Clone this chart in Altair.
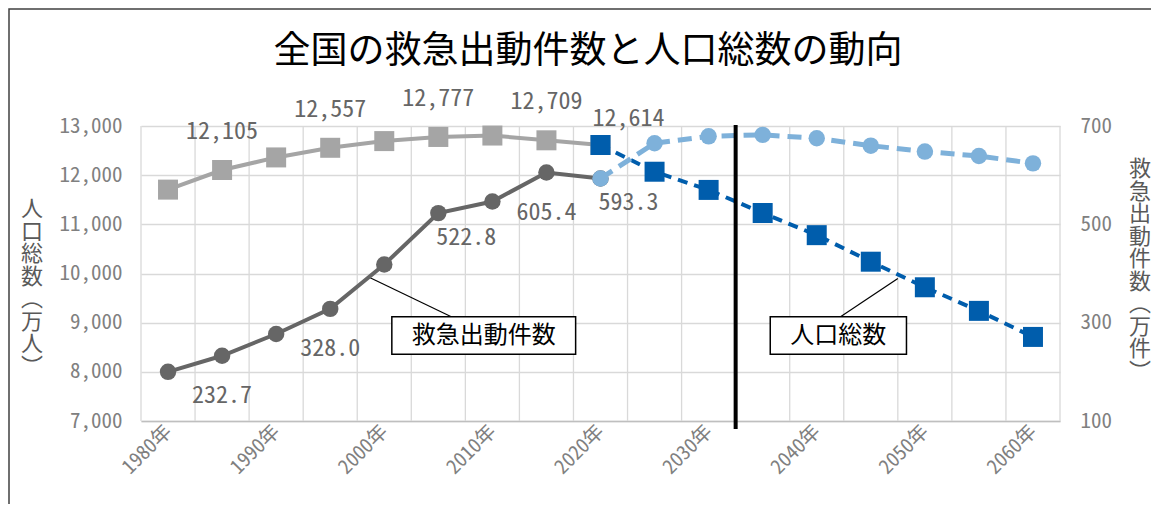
import altair as alt
import pandas as pd

# ---------------- data ----------------
years_hist = [1980, 1985, 1990, 1995, 2000, 2005, 2010, 2015, 2020]
pop_hist = [11706, 12105, 12361, 12557, 12693, 12777, 12806, 12709, 12614]
emg_hist = [200.0, 232.7, 276.9, 328.0, 418.3, 522.8, 546.4, 605.4, 593.3]

years_proj = [2020, 2025, 2030, 2035, 2040, 2045, 2050, 2055, 2060]
pop_proj = [12614, 12070, 11700, 11230, 10780, 10240, 9720, 9240, 8710]
emg_proj = [593.3, 665, 679, 682, 675, 660, 648, 639, 624]

x_tick_years = [1980, 1990, 2000, 2010, 2020, 2030, 2040, 2050, 2060]
left_ticks = [7000, 8000, 9000, 10000, 11000, 12000, 13000]
right_ticks = [100, 300, 500, 700]

pop_label_above = [1985, 1995, 2005, 2015]
pop_label_right = [2020]
emg_label_below = [1985, 1995, 2015]
emg_label_right = [2005, 2020]

divider_year = [2032.5]

title_text = "全国の救急出動件数と人口総数の動向"
left_title = "人口総数︵万人︶"
right_title = "救急出動件数︵万件︶"

ann_text = ["救急出動件数", "人口総数"]
ann_tx = [2009.2, 2042.0]
ann_ty = [8730, 8730]
ann_bx1 = [2000.7, 2035.7]
ann_bx2 = [2017.7, 2048.3]
ann_by1 = [9120, 9120]
ann_by2 = [8360, 8360]
ann_lx1 = [1998.5, 2047.5]
ann_ly1 = [9935, 9900]
ann_lx2 = [2006.2, 2042.2]
ann_ly2 = [9120, 9120]

# ---------------- styling ----------------
NUM = "'Noto Sans Mono CJK JP', 'Liberation Mono', monospace"
JP = "'Noto Sans CJK JP'"
GRAY = "#a5a5a5"
DARK = "#666666"
BLUE = "#005dac"
LBLUE = "#7eb1da"
GRID = "#d9d9d9"

all_years = sorted(set(years_hist + years_proj))
grid_years = [y - 2.5 for y in all_years] + [all_years[-1] + 2.5]
x_domain = [all_years[0] - 2.5, all_years[-1] + 2.5]

hist_df = pd.DataFrame({"year": years_hist, "pop": pop_hist, "emg": emg_hist})
proj_df = pd.DataFrame({"year": years_proj, "pop": pop_proj, "emg": emg_proj})
grid_df = pd.DataFrame({"year": grid_years})
div_df = pd.DataFrame({"year": divider_year})
ann_df = pd.DataFrame({
    "text": ann_text, "tx": ann_tx, "ty": ann_ty,
    "bx1": ann_bx1, "bx2": ann_bx2, "by1": ann_by1, "by2": ann_by2,
    "lx1": ann_lx1, "ly1": ann_ly1, "lx2": ann_lx2, "ly2": ann_ly2,
})
title_df = pd.DataFrame({"t": [title_text]})

x_axis = alt.Axis(
    values=x_tick_years, labelExpr="datum.value + '年'", labelAngle=-45,
    labelAlign="right", labelBaseline="middle", labelPadding=7,
    ticks=False, grid=False, domain=True, domainColor="#bfbfbf", domainWidth=1.5,
    labelFont=NUM, labelFontSize=20, labelColor="#808080", title=None,
    labelFlush=False, labelOverlap=False,
)
x_scale = alt.Scale(domain=x_domain, nice=False, zero=False)


def X(field="year"):
    return alt.X(f"{field}:Q", scale=x_scale, axis=x_axis)


left_axis = alt.Axis(
    values=left_ticks, labelExpr="format(datum.value, ',')", grid=True,
    gridColor=GRID, gridWidth=1.3, domain=False, ticks=False, labelPadding=19,
    labelFont=NUM, labelFontSize=21, labelColor="#808080", title=None,
)
left_scale = alt.Scale(domain=[7000, 13000], nice=False, zero=False)

right_axis = alt.Axis(
    orient="right", values=right_ticks, labelExpr="format(datum.value, 'd')",
    grid=False, domain=False, ticks=False, labelPadding=20, labelFont=NUM,
    labelFontSize=21, labelColor="#808080", title=None,
)
right_scale = alt.Scale(domain=[100, 700], nice=False, zero=False)


def YL(field):
    return alt.Y(f"{field}:Q", scale=left_scale, axis=left_axis)


def YR(field):
    return alt.Y(f"{field}:Q", scale=right_scale, axis=right_axis)


# ---------------- left group (population) ----------------
frame = alt.Chart(title_df).mark_rect(
    fillOpacity=0, stroke="#404040", strokeWidth=1.5
).encode(x=alt.value(-132), x2=alt.value(1300), y=alt.value(-117), y2=alt.value(600))

title = alt.Chart(title_df).mark_text(
    font=JP, fontSize=37, color="black", align="center", baseline="middle"
).encode(text="t:N", x=alt.value(447), y=alt.value(-74))

ltitle = alt.Chart(title_df).mark_text(
    text=list(left_title), font=JP, fontSize=22, color="#595959", align="center",
    baseline="top", lineHeight=22.5,
).encode(x=alt.value(-109), y=alt.value(73))

rtitle = alt.Chart(title_df).mark_text(
    text=list(right_title), font=JP, fontSize=22, color="#595959", align="center",
    baseline="top", lineHeight=22.5,
).encode(x=alt.value(999), y=alt.value(33))

vgrid = alt.Chart(grid_df).mark_rule(color=GRID, strokeWidth=1.3).encode(x=X("year"))

pop_line = alt.Chart(hist_df).mark_line(color=GRAY, strokeWidth=4).encode(x=X(), y=YL("pop"))
pop_pts = alt.Chart(hist_df).mark_square(color=GRAY, size=400, opacity=1).encode(x=X(), y=YL("pop"))
pop_lab1 = alt.Chart(hist_df).transform_filter(
    alt.FieldOneOfPredicate(field="year", oneOf=pop_label_above)
).mark_text(font=NUM, fontSize=24, color="#666666", dy=-38).encode(
    x=X(), y=YL("pop"), text=alt.Text("pop:Q", format=",")
)
pop_lab2 = alt.Chart(hist_df).transform_filter(
    alt.FieldOneOfPredicate(field="year", oneOf=pop_label_right)
).mark_text(font=NUM, fontSize=24, color="#666666", dx=28, dy=-26).encode(
    x=X(), y=YL("pop"), text=alt.Text("pop:Q", format=",")
)
pop_pline = alt.Chart(proj_df).mark_line(color=BLUE, strokeWidth=4, strokeDash=[10, 7]).encode(
    x=X(), y=YL("pop")
)
pop_ppts = alt.Chart(proj_df).mark_square(color=BLUE, size=400, opacity=1).encode(x=X(), y=YL("pop"))

ann_lines = alt.Chart(ann_df).mark_rule(color="black", strokeWidth=1.2).encode(
    x=X("lx1"), x2="lx2:Q", y=YL("ly1"), y2="ly2:Q"
)
ann_boxes = alt.Chart(ann_df).mark_rect(fill="white", stroke="black", strokeWidth=1.5).encode(
    x=X("bx1"), x2="bx2:Q", y=YL("by1"), y2="by2:Q"
)
ann_texts = alt.Chart(ann_df).mark_text(font=JP, fontSize=24, color="black").encode(
    x=X("tx"), y=YL("ty"), text="text:N"
)

left = alt.layer(frame, title, ltitle, rtitle, vgrid, pop_line, pop_pts, pop_lab1, pop_lab2,
                 ann_lines, ann_boxes, ann_texts, pop_pline, pop_ppts)

# ---------------- right group (emergency dispatches) ----------------
emg_line = alt.Chart(hist_df).mark_line(color=DARK, strokeWidth=4).encode(x=X(), y=YR("emg"))
emg_pts = alt.Chart(hist_df).mark_circle(color=DARK, size=270, opacity=1).encode(x=X(), y=YR("emg"))
emg_lab1 = alt.Chart(hist_df).transform_filter(
    alt.FieldOneOfPredicate(field="year", oneOf=emg_label_below)
).mark_text(font=NUM, fontSize=24, color="#666666", dy=40).encode(
    x=X(), y=YR("emg"), text=alt.Text("emg:Q", format=".1f")
)
emg_lab2 = alt.Chart(hist_df).transform_filter(
    alt.FieldOneOfPredicate(field="year", oneOf=emg_label_right)
).mark_text(font=NUM, fontSize=24, color="#666666", dx=28, dy=25).encode(
    x=X(), y=YR("emg"), text=alt.Text("emg:Q", format=".1f")
)
emg_pline = alt.Chart(proj_df).mark_line(color=LBLUE, strokeWidth=5, strokeDash=[14, 8]).encode(
    x=X(), y=YR("emg")
)
emg_ppts = alt.Chart(proj_df).mark_circle(color=LBLUE, size=270, opacity=1).encode(x=X(), y=YR("emg"))
divider = alt.Chart(div_df).mark_rule(color="black", strokeWidth=4).encode(
    x=X("year"), y=alt.value(-1), y2=alt.value(303)
)

right = alt.layer(emg_line, emg_pts, emg_lab1, emg_lab2, emg_pline, emg_ppts, divider)

chart = alt.layer(left, right).resolve_scale(y="independent").properties(
    width=919, height=295,
    padding={"left": 133, "top": 118, "right": 91, "bottom": 83},
    autosize=alt.AutoSizeParams(type="none"),
    background="white",
).configure_view(stroke=None)

chart.save("out.html", embed_options={"renderer": "svg", "actions": False})
